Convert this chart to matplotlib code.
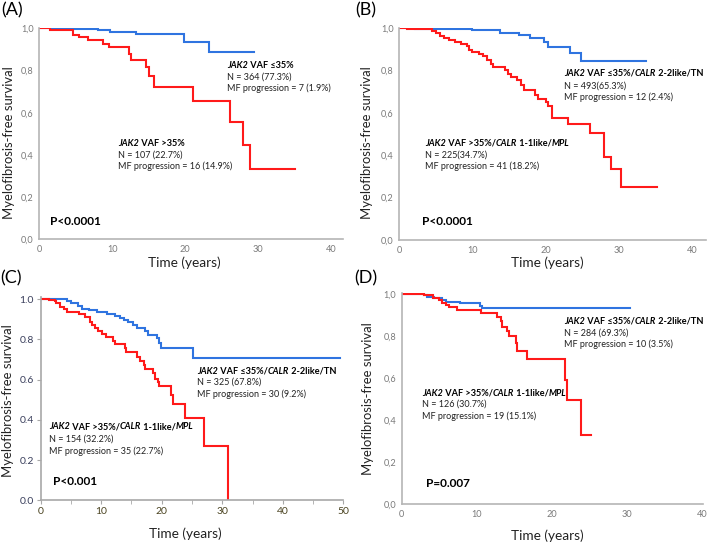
'''
Myelofibrosis-free survival by JAK2 VAF / driver mutation, four cohorts
'''

from matplotlib import pyplot as plt

BLUE = '#2f74e0'
RED = '#ff1a1a'

# panel A
a_blue_t = [0, 1.9, 8.1, 9.7, 13.3, 19.8, 23.3]
a_blue_s = [1.0, 0.997, 0.992, 0.984, 0.973, 0.936, 0.887]
a_blue_end = 29.5
a_red_t = [0, 1.5, 4.6, 5.5, 6.7, 8.7, 9.5, 12.3, 12.6, 14.65, 15.1, 15.8,
           21.1, 26.1, 28.0, 28.9]
a_red_s = [1.0, 0.992, 0.969, 0.957, 0.945, 0.928, 0.912, 0.880, 0.852,
           0.817, 0.772, 0.724, 0.655, 0.558, 0.445, 0.332]
a_red_end = 35.1

# panel B
b_blue_t = [0, 2.2, 7.9, 9.9, 13.8, 16.3, 17.9, 19.7, 20.3, 23.3, 24.8]
b_blue_s = [1.0, 0.998, 0.995, 0.99, 0.98, 0.968, 0.956, 0.937, 0.913,
            0.882, 0.845]
b_blue_end = 33.6
b_red_t = [0, 1.1, 4.5, 5.0, 5.6, 6.2, 6.8, 7.6, 8.4, 9.3, 9.6, 10.0, 10.9,
           11.4, 12.0, 12.5, 12.8, 14.5, 14.8, 15.3, 16.1, 16.6, 17.0, 18.6,
           18.9, 20.0, 20.3, 20.9, 23.0, 26.0, 27.9, 28.9, 30.2]
b_red_s = [1.0, 0.995, 0.986, 0.978, 0.965, 0.955, 0.945, 0.934, 0.926,
           0.918, 0.898, 0.887, 0.879, 0.868, 0.851, 0.832, 0.816, 0.803,
           0.785, 0.770, 0.754, 0.730, 0.710, 0.686, 0.667, 0.652, 0.631,
           0.578, 0.546, 0.506, 0.392, 0.334, 0.252]
b_red_end = 35.1

# panel C
c_blue_t = [0, 4.3, 5.0, 6.2, 6.8, 7.9, 9.3, 10.9, 12.3, 13.1, 13.7, 14.5,
            15.3, 15.9, 17.2, 17.8, 19.2, 19.6, 19.8, 25.2]
c_blue_s = [1.0, 0.992, 0.982, 0.966, 0.952, 0.944, 0.936, 0.928, 0.916,
            0.906, 0.895, 0.887, 0.870, 0.854, 0.841, 0.821, 0.808, 0.780,
            0.756, 0.707]
c_blue_end = 49.4
c_red_t = [0, 1.3, 2.4, 2.6, 3.2, 3.9, 4.3, 6.4, 7.3, 8.1, 8.4, 9.0, 9.5,
           10.1, 10.8, 12.0, 12.3, 13.9, 14.1, 15.9, 16.4, 17.0, 17.3, 18.6,
           18.9, 19.3, 19.5, 21.6, 21.8, 23.8, 27.0, 31.0]
c_red_s = [1.0, 0.993, 0.988, 0.982, 0.961, 0.948, 0.936, 0.925, 0.911,
           0.887, 0.870, 0.857, 0.841, 0.825, 0.813, 0.793, 0.775, 0.759,
           0.739, 0.710, 0.690, 0.674, 0.654, 0.633, 0.605, 0.589, 0.567,
           0.523, 0.477, 0.408, 0.272, 0.0]
c_red_end = 31.0

# panel D
d_blue_t = [0, 3.0, 3.4, 4.3, 5.4, 5.9, 7.8, 10.4, 10.7]
d_blue_s = [1.0, 0.995, 0.987, 0.979, 0.972, 0.964, 0.956, 0.945, 0.932]
d_blue_end = 30.4
d_red_t = [0, 0.3, 3.0, 4.1, 5.0, 5.4, 5.9, 6.3, 7.3, 10.5, 12.7, 13.2, 13.4,
           14.0, 14.3, 15.2, 15.3, 16.6, 21.7, 22.0, 23.8]
d_red_s = [1.0, 0.998, 0.994, 0.983, 0.972, 0.956, 0.948, 0.940, 0.924,
           0.908, 0.888, 0.869, 0.845, 0.822, 0.798, 0.766, 0.730, 0.690,
           0.592, 0.498, 0.329]
d_red_end = 25.2

# annotation texts
a_blue_head = ['JAK2', ' VAF ≤35%']
a_red_head = ['JAK2', ' VAF >35%']
long_blue_head = ['JAK2', ' VAF ≤35%/', 'CALR', ' 2-2like/TN']
long_red_head = ['JAK2', ' VAF >35%/', 'CALR', ' 1-1like/', 'MPL']
a_blue_lines = ['N = 364 (77.3%)', 'MF progression = 7 (1.9%)']
a_red_lines = ['N = 107 (22.7%)', 'MF progression = 16 (14.9%)']
b_blue_lines = ['N = 493(65.3%)', 'MF progression = 12 (2.4%)']
b_red_lines = ['N = 225(34.7%)', 'MF progression = 41 (18.2%)']
c_blue_lines = ['N = 325 (67.8%)', 'MF progression = 30 (9.2%)']
c_red_lines = ['N = 154 (32.2%)', 'MF progression = 35 (22.7%)']
d_blue_lines = ['N = 284 (69.3%)', 'MF progression = 10 (3.5%)']
d_red_lines = ['N = 126 (30.7%)', 'MF progression = 19 (15.1%)']

FONT = ['Lato', 'DejaVu Sans']
plt.rcParams['font.family'] = FONT

W, H = 709, 542
fig = plt.figure(figsize=(W / 100, H / 100), dpi=100)


def px_axes(left, right, top, bottom):
    return fig.add_axes([left / W, 1 - bottom / H, (right - left) / W,
                         (bottom - top) / H])


def km(ax, t, s, end, color):
    ax.step(list(t) + [end], list(s) + [s[-1]], where='post', color=color,
            lw=1.5, solid_joinstyle='miter')


def head(ax, x, y, parts):
    # italic gene names alternate with bold plain text
    t = ax.text(x, y, parts[0], fontsize=6.6, fontweight='bold',
                style='italic', va='center', family=FONT)
    for i, p in enumerate(parts[1:], start=1):
        t = ax.annotate(p, xy=(1, 0), xycoords=t, va='bottom',
                        fontsize=6.6, fontweight='bold',
                        style='italic' if i % 2 == 0 else 'normal',
                        family=FONT)


def block(ax, x, ys, parts, lines):
    head(ax, x, ys[0], parts)
    for y, line in zip(ys[1:], lines):
        ax.text(x, y, line, fontsize=6.5, va='center', color='#222222')


def spss_style(ax, xmax, xticks, xlabs, ylabs):
    ax.set_xlim(0, xmax)
    ax.set_ylim(0, 1.003)
    for side in ['top', 'right']:
        ax.spines[side].set_visible(False)
    for side in ['left', 'bottom']:
        ax.spines[side].set_color('#b5b5b5')
        ax.spines[side].set_linewidth(1.2)
    ax.set_xticks(xticks, xlabs)
    ax.set_yticks([0, 0.2, 0.4, 0.6, 0.8, 1.0], ylabs)
    ax.tick_params(length=0, labelsize=6.6, labelcolor='#7a7a7a', pad=4)


comma = ['0,0', '0,2', '0,4', '0,6', '0,8', '1,0']
dot = ['0.0', '0.2', '0.4', '0.6', '0.8', '1.0']

# ---- A ----
axA = px_axes(39.3, 343.3, 27.7, 239.3)
spss_style(axA, 41.7, [0, 10, 20, 30, 40], ['0', '10', '20', '30', '40'], comma)
km(axA, a_blue_t, a_blue_s, a_blue_end, BLUE)
km(axA, a_red_t, a_red_s, a_red_end, RED)
block(axA, 25.8, [0.823, 0.770, 0.715], a_blue_head, a_blue_lines)
block(axA, 10.8, [0.455, 0.400, 0.346], a_red_head, a_red_lines)
axA.text(1.4, 0.086, 'P<0.0001', fontsize=8.5, fontweight='bold', va='center')

# ---- B ----
axB = px_axes(399, 705.7, 27.7, 240)
spss_style(axB, 41.8, [0, 10, 20, 30, 40], ['0', '10', '20', '30', '40'], comma)
km(axB, b_blue_t, b_blue_s, b_blue_end, BLUE)
km(axB, b_red_t, b_red_s, b_red_end, RED)
block(axB, 22.5, [0.787, 0.727, 0.674], long_blue_head, b_blue_lines)
block(axB, 3.55, [0.457, 0.400, 0.349], long_red_head, b_red_lines)
axB.text(3.1, 0.089, 'P<0.0001', fontsize=8.5, fontweight='bold', va='center')

# ---- C ----
axC = px_axes(40.7, 343.3, 297, 500.3)
axC.set_xlim(0, 50)
axC.set_ylim(0, 1.01)
for side in ['top', 'right']:
    axC.spines[side].set_visible(False)
for side in ['left', 'bottom']:
    axC.spines[side].set_color('#a8a8a8')
    axC.spines[side].set_linewidth(1.2)
axC.set_xticks([0, 10, 20, 30, 40, 50])
axC.set_xticks([5, 15, 25, 35, 45], minor=True)
axC.set_yticks([0, 0.2, 0.4, 0.6, 0.8, 1.0], dot)
axC.tick_params(which='both', length=3, color='#a8a8a8', labelsize=7.5, pad=2)
axC.tick_params(axis='x', labelcolor='#4a4320')
axC.tick_params(axis='y', labelcolor='#3a3f5c')
km(axC, c_blue_t, c_blue_s, c_blue_end, BLUE)
km(axC, c_red_t, c_red_s, c_red_end, RED)
block(axC, 25.8, [0.641, 0.585, 0.528], long_blue_head, c_blue_lines)
block(axC, 1.37, [0.365, 0.306, 0.245], long_red_head, c_red_lines)
axC.text(2.0, 0.095, 'P<0.001', fontsize=8.5, fontweight='bold', va='center')

# ---- D ----
axD = px_axes(401.7, 703.3, 293.3, 504.3)
spss_style(axD, 40.1, [0, 10, 20, 30, 40], ['0', '10', '20', '30', '40'], comma)
km(axD, d_blue_t, d_blue_s, d_blue_end, BLUE)
km(axD, d_red_t, d_red_s, d_red_end, RED)
block(axD, 21.6, [0.869, 0.812, 0.760], long_blue_head, d_blue_lines)
block(axD, 2.7, [0.527, 0.475, 0.418], long_red_head, d_red_lines)
axD.text(3.2, 0.10, 'P=0.007', fontsize=8.5, fontweight='bold', va='center')

# axis titles and panel letters
labels = [(axA, 0.476, -0.113, -0.10, 0.455),
          (axB, 0.483, -0.108, -0.104, 0.461),
          (axC, 0.477, -0.166, -0.108, 0.488),
          (axD, 0.482, -0.150, -0.112, 0.50)]
for ax, xx, xy, yx, yy in labels:
    ax.text(xx, xy, 'Time (years)', transform=ax.transAxes, fontsize=9.8,
            ha='center', va='center', color='#222222')
    ax.text(yx, yy, 'Myelofibrosis-free survival', transform=ax.transAxes,
            fontsize=9.4, rotation=90, ha='center', va='center',
            color='#222222')

for letter, x, y in [('(A)', 1, 2), ('(B)', 355, 2), ('(C)', 0, 270),
                     ('(D)', 354, 270)]:
    fig.text(x / W, 1 - y / H, letter, fontsize=13, va='top', ha='left')

fig.savefig('out.png', dpi=100)
